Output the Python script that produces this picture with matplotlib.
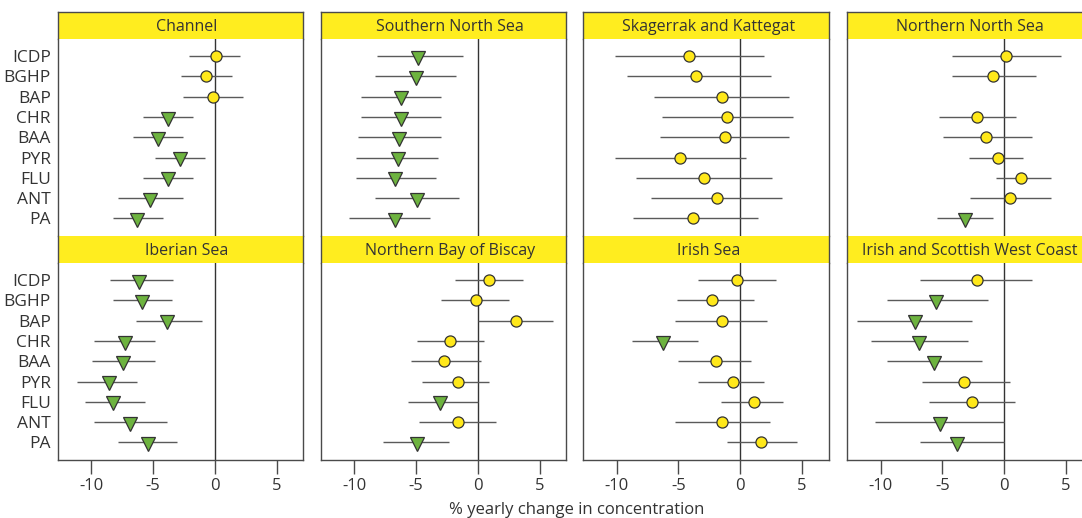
import numpy as np
import matplotlib.pyplot as plt

plt.rcParams['font.family'] = ['Open Sans', 'DejaVu Sans']

compounds = ['ICDP', 'BGHP', 'BAP', 'CHR', 'BAA', 'PYR', 'FLU', 'ANT', 'PA']
regions = ['Channel', 'Southern North Sea', 'Skagerrak and Kattegat', 'Northern North Sea',
           'Iberian Sea', 'Northern Bay of Biscay', 'Irish Sea', 'Irish and Scottish West Coast']

# % yearly change, lower and upper limit, 1 = significant decrease
channel_est = [0.1, -0.7, -0.15, -3.8, -4.6, -2.8, -3.8, -5.2, -6.25]
channel_lo = [-2.1, -2.7, -2.55, -5.8, -6.6, -4.8, -5.8, -7.85, -8.25]
channel_hi = [2.05, 1.4, 2.25, -1.75, -2.55, -0.75, -1.75, -2.55, -4.2]
channel_down = [0, 0, 0, 1, 1, 1, 1, 1, 1]

sns_est = [-4.85, -5.05, -6.25, -6.25, -6.4, -6.5, -6.75, -4.95, -6.75]
sns_lo = [-8.2, -8.3, -9.45, -9.45, -9.7, -9.85, -9.85, -8.3, -10.4]
sns_hi = [-1.25, -1.75, -3.0, -3.0, -3.0, -3.25, -3.4, -1.55, -3.9]
sns_down = [1, 1, 1, 1, 1, 1, 1, 1, 1]

skag_est = [-4.15, -3.55, -1.5, -1.05, -1.2, -4.9, -2.9, -1.9, -3.85]
skag_lo = [-10.1, -9.15, -6.95, -6.3, -6.5, -10.1, -8.4, -7.25, -8.7]
skag_hi = [1.95, 2.45, 3.95, 4.3, 3.95, 0.5, 2.6, 3.35, 1.4]
skag_down = [0, 0, 0, 0, 0, 0, 0, 0, 0]

nns_est = [0.15, -0.95, np.nan, -2.2, -1.45, -0.55, 1.35, 0.45, -3.2]
nns_lo = [-4.25, -4.25, np.nan, -5.25, -4.95, -2.85, -0.7, -2.8, -5.45]
nns_hi = [4.55, 2.6, np.nan, 0.95, 2.2, 1.55, 3.75, 3.75, -0.95]
nns_down = [0, 0, 0, 0, 0, 0, 0, 0, 1]

iber_est = [-6.1, -5.85, -3.85, -7.25, -7.4, -8.55, -8.2, -6.85, -5.4]
iber_lo = [-8.5, -8.2, -6.4, -9.75, -9.9, -11.1, -10.5, -9.75, -7.8]
iber_hi = [-3.4, -3.45, -1.05, -4.8, -4.85, -6.25, -5.65, -3.85, -3.05]
iber_down = [1, 1, 1, 1, 1, 1, 1, 1, 1]

biscay_est = [0.9, -0.2, 3.05, -2.3, -2.75, -1.6, -3.05, -1.6, -4.9]
biscay_lo = [-1.85, -3.0, 0.0, -4.9, -5.4, -4.5, -5.65, -4.75, -7.7]
biscay_hi = [3.65, 2.5, 6.1, 0.45, 0.25, 0.9, 0.0, 1.45, -2.35]
biscay_down = [0, 0, 0, 0, 0, 0, 1, 0, 1]

irish_est = [-0.3, -2.3, -1.5, -6.25, -1.95, -0.6, 1.1, -1.5, 1.7]
irish_lo = [-3.45, -5.1, -5.3, -8.8, -5.05, -3.45, -1.55, -5.3, -1.1]
irish_hi = [2.9, 1.1, 2.15, -3.45, 0.9, 1.95, 3.45, 2.4, 4.6]
irish_down = [0, 0, 0, 1, 0, 0, 0, 0, 0]

west_est = [-2.2, -5.5, -7.25, -6.9, -5.65, -3.3, -2.65, -5.2, -3.8]
west_lo = [-6.8, -9.5, -11.95, -10.8, -9.5, -6.65, -6.1, -10.45, -6.8]
west_hi = [2.2, -1.3, -2.6, -2.9, -1.8, 0.45, 0.9, 0.0, 0.0]
west_down = [0, 1, 1, 1, 1, 0, 0, 1, 1]

panels = [
    (channel_est, channel_lo, channel_hi, channel_down),
    (sns_est, sns_lo, sns_hi, sns_down),
    (skag_est, skag_lo, skag_hi, skag_down),
    (nns_est, nns_lo, nns_hi, nns_down),
    (iber_est, iber_lo, iber_hi, iber_down),
    (biscay_est, biscay_lo, biscay_hi, biscay_down),
    (irish_est, irish_lo, irish_hi, irish_down),
    (west_est, west_lo, west_hi, west_down),
]

yellow = '#FFED1F'
green = '#6DB33F'
frame = '#4a4a4a'
txt = '#333333'

W, H = 1082, 518
fig = plt.figure(figsize=(W / 100, H / 100), dpi=100)

lefts = [57.7, 321.0, 583.3, 847.3]
title_shift = [6.0, 6.5, 2.5, 0.0]   # header text sits a little right of centre
pw = 245.4
title_top = [11.7, 235.7]
th, ph = 27.0, 197.0

def px_rect(l, t, w, h):
    return [l / W, 1 - (t + h) / H, w / W, h / H]

y = np.arange(len(compounds))
for k, name in enumerate(regions):
    row, col = divmod(k, 4)
    est, lo, hi, down = [np.array(a, dtype=float) for a in panels[k]]
    down = down.astype(bool)

    # yellow header bar
    tax = fig.add_axes(px_rect(lefts[col], title_top[row], pw, th))
    tax.set_facecolor(yellow)
    tax.set_xticks([])
    tax.set_yticks([])
    for s in ['top', 'bottom', 'left', 'right']:
        tax.spines[s].set_color(frame)
        tax.spines[s].set_linewidth(1.0)
    tax.spines['bottom'].set_visible(False)
    if row == 1:
        tax.spines['top'].set_visible(False)
    tax.text(0.5 + title_shift[col] / pw, 0.45, name, ha='center', va='center',
             fontsize=11.5, color=txt, transform=tax.transAxes)

    ax = fig.add_axes(px_rect(lefts[col], title_top[row] + th, pw, ph))
    ax.set_xlim(-12.7, 7.15)
    ax.set_ylim(8.85, -0.85)
    for s in ['top', 'bottom', 'left', 'right']:
        ax.spines[s].set_color(frame)
        ax.spines[s].set_linewidth(1.0)
    ax.spines['top'].set_visible(False)
    if row == 0:
        ax.spines['bottom'].set_visible(False)

    ax.axvline(0, color='#333333', lw=1.0, zorder=1)
    ok = ~np.isnan(est)
    ax.hlines(y[ok], lo[ok], hi[ok], color='#5a5a5a', lw=1.0, zorder=2)
    m = ok & ~down
    ax.plot(est[m], y[m], 'o', ms=8, mfc='#FFE81A', mec='#333333', mew=0.9, zorder=3)
    m = ok & down
    ax.plot(est[m], y[m] + 0.08, 'v', ms=9.5, mfc=green, mec='#333333', mew=0.9, zorder=3)

    if col == 0:
        ax.set_yticks(y)
        ax.set_yticklabels(compounds, fontsize=12.5, color=txt)
        ax.tick_params(axis='y', length=0, pad=5)
    else:
        ax.set_yticks([])

    if row == 1:
        ax.set_xticks([-10, -5, 0, 5])
        ax.set_xticklabels(['-10', '-5', '0', '5'])
        ax.tick_params(axis='x', length=10, width=1.0, color=frame, labelsize=12,
                       labelcolor=txt, pad=3)
    else:
        ax.set_xticks([])

fig.text(577 / W, 1 - 510 / H, '% yearly change in concentration', ha='center', va='center',
         fontsize=12, color=txt)

fig.savefig('out.png', dpi=100)
